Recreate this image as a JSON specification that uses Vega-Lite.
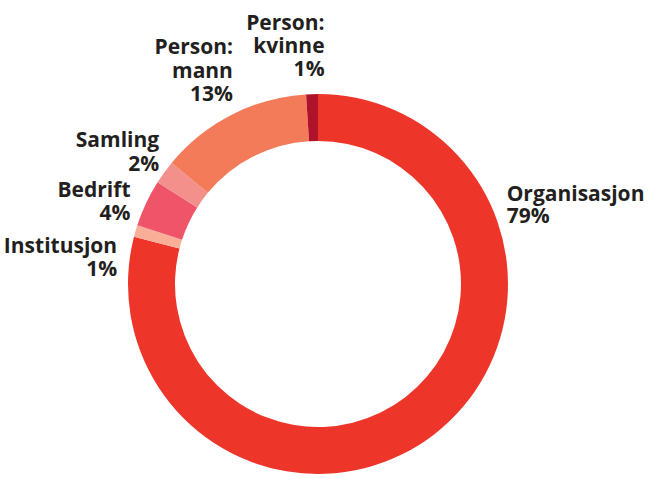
{
  "$schema": "https://vega.github.io/schema/vega-lite/v6.json",
  "autosize": "none",
  "width": 636,
  "height": 386,
  "padding": {"left": 0, "top": 91, "right": 12, "bottom": 0},
  "background": "white",
  "config": {"view": {"stroke": null}},
  "data": {
    "values": [
      {"category": "Organisasjon", "label": "Organisasjon", "value": 79, "order": 1},
      {"category": "Institusjon", "label": "Institusjon", "value": 1, "order": 2},
      {"category": "Bedrift", "label": "Bedrift", "value": 4, "order": 3},
      {"category": "Samling", "label": "Samling", "value": 2, "order": 4},
      {"category": "Person: mann", "label": "Person:\nmann", "value": 13, "order": 5},
      {"category": "Person: kvinne", "label": "Person:\nkvinne", "value": 1, "order": 6}
    ]
  },
  "transform": [
    {"stack": "value", "groupby": [], "as": ["v0", "v1"], "sort": [{"field": "order", "order": "ascending"}]},
    {"calculate": "(datum.v0 + datum.v1) / 2", "as": "mid"},
    {"calculate": "datum.label + '\\n' + datum.value + '%'", "as": "txt"}
  ],
  "layer": [
    {
      "mark": {"type": "arc", "outerRadius": 190, "innerRadius": 143},
      "encoding": {
        "theta": {"field": "v0", "type": "quantitative", "scale": {"domain": [0, 100]}},
        "theta2": {"field": "v1"},
        "color": {
          "field": "category", "type": "nominal", "legend": null,
          "scale": {
            "domain": ["Organisasjon", "Institusjon", "Bedrift", "Samling", "Person: mann", "Person: kvinne"],
            "range": ["#EE352A", "#F9AE98", "#F05468", "#F4908C", "#F47B59", "#AE132B"]
          }
        }
      }
    },
    {
      "transform": [{"filter": "datum.category === 'Organisasjon'"}],
      "mark": {"type": "text", "radius": 205, "align": "left", "baseline": "alphabetic", "dx": 63, "dy": -244.5, "lineBreak": "\n", "lineHeight": 22, "font": "Open Sans", "fontWeight": "bold", "fontSize": 21, "color": "#231F20"},
      "encoding": {"theta": {"field": "mid", "type": "quantitative", "stack": null}, "text": {"field": "txt"}}
    },
    {
      "transform": [{"filter": "datum.category === 'Institusjon'"}],
      "mark": {"type": "text", "radius": 205, "align": "right", "baseline": "alphabetic", "dx": -4, "dy": 26, "lineBreak": "\n", "lineHeight": 23.5, "font": "Open Sans", "fontWeight": "bold", "fontSize": 21, "color": "#231F20"},
      "encoding": {"theta": {"field": "mid", "type": "quantitative", "stack": null}, "text": {"field": "txt"}}
    },
    {
      "transform": [{"filter": "datum.category === 'Bedrift'"}],
      "mark": {"type": "text", "radius": 205, "align": "right", "baseline": "alphabetic", "dx": -2, "dy": 0, "lineBreak": "\n", "lineHeight": 23.5, "font": "Open Sans", "fontWeight": "bold", "fontSize": 21, "color": "#231F20"},
      "encoding": {"theta": {"field": "mid", "type": "quantitative", "stack": null}, "text": {"field": "txt"}}
    },
    {
      "transform": [{"filter": "datum.category === 'Samling'"}],
      "mark": {"type": "text", "radius": 205, "align": "right", "baseline": "alphabetic", "dx": 7, "dy": -16.5, "lineBreak": "\n", "lineHeight": 23.5, "font": "Open Sans", "fontWeight": "bold", "fontSize": 21, "color": "#231F20"},
      "encoding": {"theta": {"field": "mid", "type": "quantitative", "stack": null}, "text": {"field": "txt"}}
    },
    {
      "transform": [{"filter": "datum.category === 'Person: mann'"}],
      "mark": {"type": "text", "radius": 205, "align": "right", "baseline": "alphabetic", "dx": 8, "dy": -47, "lineBreak": "\n", "lineHeight": 23.5, "font": "Open Sans", "fontWeight": "bold", "fontSize": 21, "color": "#231F20"},
      "encoding": {"theta": {"field": "mid", "type": "quantitative", "stack": null}, "text": {"field": "txt"}}
    },
    {
      "transform": [{"filter": "datum.category === 'Person: kvinne'"}],
      "mark": {"type": "text", "radius": 205, "align": "right", "baseline": "alphabetic", "dx": 13, "dy": -49, "lineBreak": "\n", "lineHeight": 23, "font": "Open Sans", "fontWeight": "bold", "fontSize": 21, "color": "#231F20"},
      "encoding": {"theta": {"field": "mid", "type": "quantitative", "stack": null}, "text": {"field": "txt"}}
    }
  ]
}
